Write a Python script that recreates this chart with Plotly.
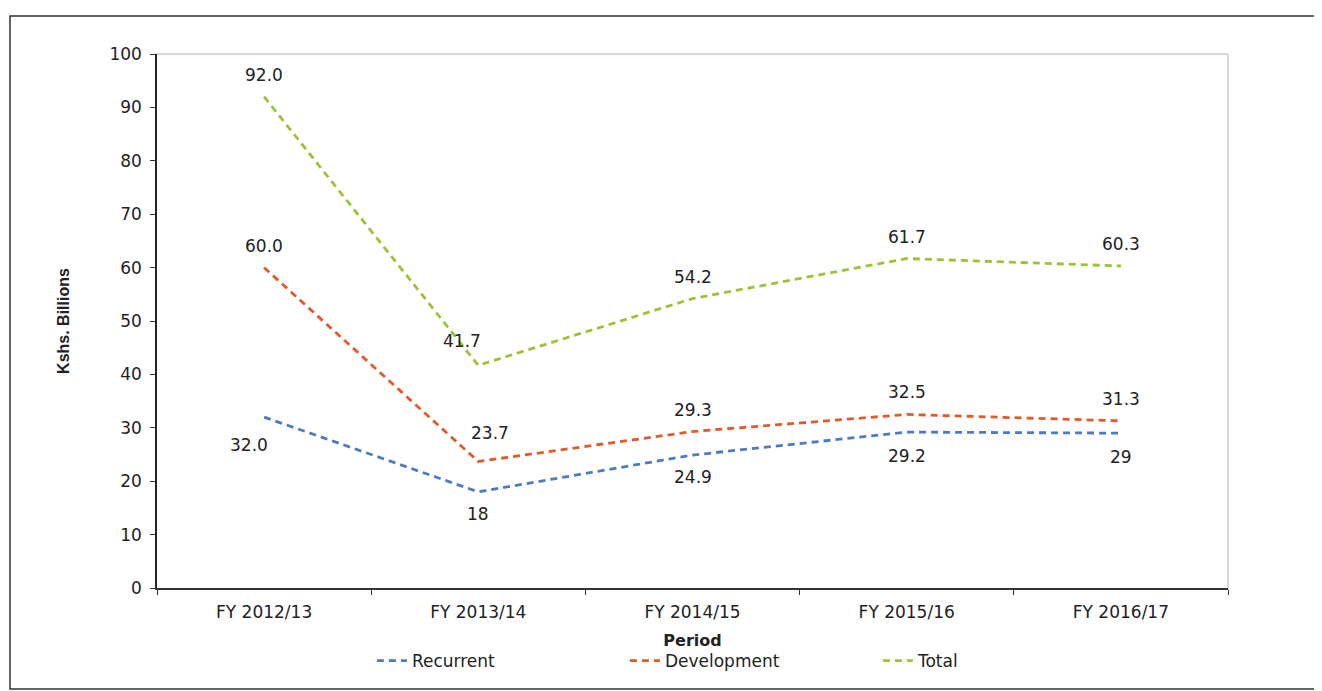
import plotly.graph_objects as go

periods = ["FY 2012/13", "FY 2013/14", "FY 2014/15", "FY 2015/16", "FY 2016/17"]
recurrent = [32.0, 18, 24.9, 29.2, 29]
development = [60.0, 23.7, 29.3, 32.5, 31.3]
total = [92.0, 41.7, 54.2, 61.7, 60.3]
recurrent_text = ["32.0", "18", "24.9", "29.2", "29"]
development_text = ["60.0", "23.7", "29.3", "32.5", "31.3"]
total_text = ["92.0", "41.7", "54.2", "61.7", "60.3"]

# label offsets in pixels (style only)
recurrent_shift = [(-15, -28), (0, -22), (0, -22), (0, -24), (0, -24)]
development_shift = [(0, 22), (12, 28), (0, 22), (0, 22), (0, 22)]
total_shift = [(0, 22), (-16, 24), (0, 22), (0, 22), (0, 22)]

colors = {"Recurrent": "#4E7BBF", "Development": "#E25A2A", "Total": "#9DC235"}
label_font = dict(family="DejaVu Sans, Verdana, sans-serif", size=17, color="#222")

fig = go.Figure()
series = [
    ("Recurrent", recurrent, recurrent_text, recurrent_shift),
    ("Development", development, development_text, development_shift),
    ("Total", total, total_text, total_shift),
]
annotations = []
for name, vals, txt, shifts in series:
    fig.add_trace(go.Scatter(
        x=periods, y=vals, name=name, mode="lines",
        line=dict(color=colors[name], width=2.8, dash="7px,5px"),
    ))
    for xv, yv, t, (dx, dy) in zip(periods, vals, txt, shifts):
        annotations.append(dict(x=xv, y=yv, text=t, showarrow=False,
                                xshift=dx, yshift=dy, font=label_font))

fig.update_layout(
    width=1314, height=683,
    margin=dict(l=149, r=94, t=46, b=103),
    paper_bgcolor="white", plot_bgcolor="white",
    showlegend=True,
    legend=dict(orientation="h", x=0.555, xanchor="center", y=-0.137, yanchor="middle",
                font=dict(family="DejaVu Sans, sans-serif", size=17, color="#222"),
                entrywidth=208, entrywidthmode="pixels", tracegroupgap=0),
    annotations=annotations,
    xaxis=dict(
        type="category", range=[-0.5, 4.5],
        showline=True, linecolor="#333", linewidth=1.5,
        mirror=False, showgrid=False,
        ticks="outside", ticklen=5, tickcolor="#333",
        tickson="boundaries", ticklabelstandoff=8,
        tickfont=dict(family="DejaVu Sans, sans-serif", size=17, color="#222"),
        title=dict(text="<b>Period</b>", standoff=14,
                   font=dict(family="DejaVu Sans, sans-serif", size=16, color="#222")),
    ),
    yaxis=dict(
        range=[0, 100], dtick=10,
        showline=True, linecolor="#222", linewidth=1.5,
        showgrid=False, zeroline=False,
        ticks="outside", ticklen=5, tickcolor="#333", ticklabelstandoff=5,
        tickfont=dict(family="DejaVu Sans, Verdana, sans-serif", size=17, color="#222"),
        title=dict(text="<b>Kshs. Billions</b>", standoff=36,
                   font=dict(family="Liberation Sans Narrow, Liberation Sans, sans-serif", size=16, color="#222")),
    ),
    shapes=[
        dict(type="line", xref="paper", yref="paper", x0=0, x1=1, y0=1, y1=1,
             line=dict(color="#a9b4c4", width=1)),
        dict(type="line", xref="paper", yref="paper", x0=1, x1=1, y0=0, y1=1,
             line=dict(color="#a9b4c4", width=1)),
        dict(type="rect", xref="paper", yref="paper",
             x0=(10 - 157) / 1071, x1=(1340 - 157) / 1071,
             y0=(588 - 689) / 534, y1=(588 - 16) / 534,
             line=dict(color="#333", width=1.5)),
    ],
)

fig.write_html("out.html")
